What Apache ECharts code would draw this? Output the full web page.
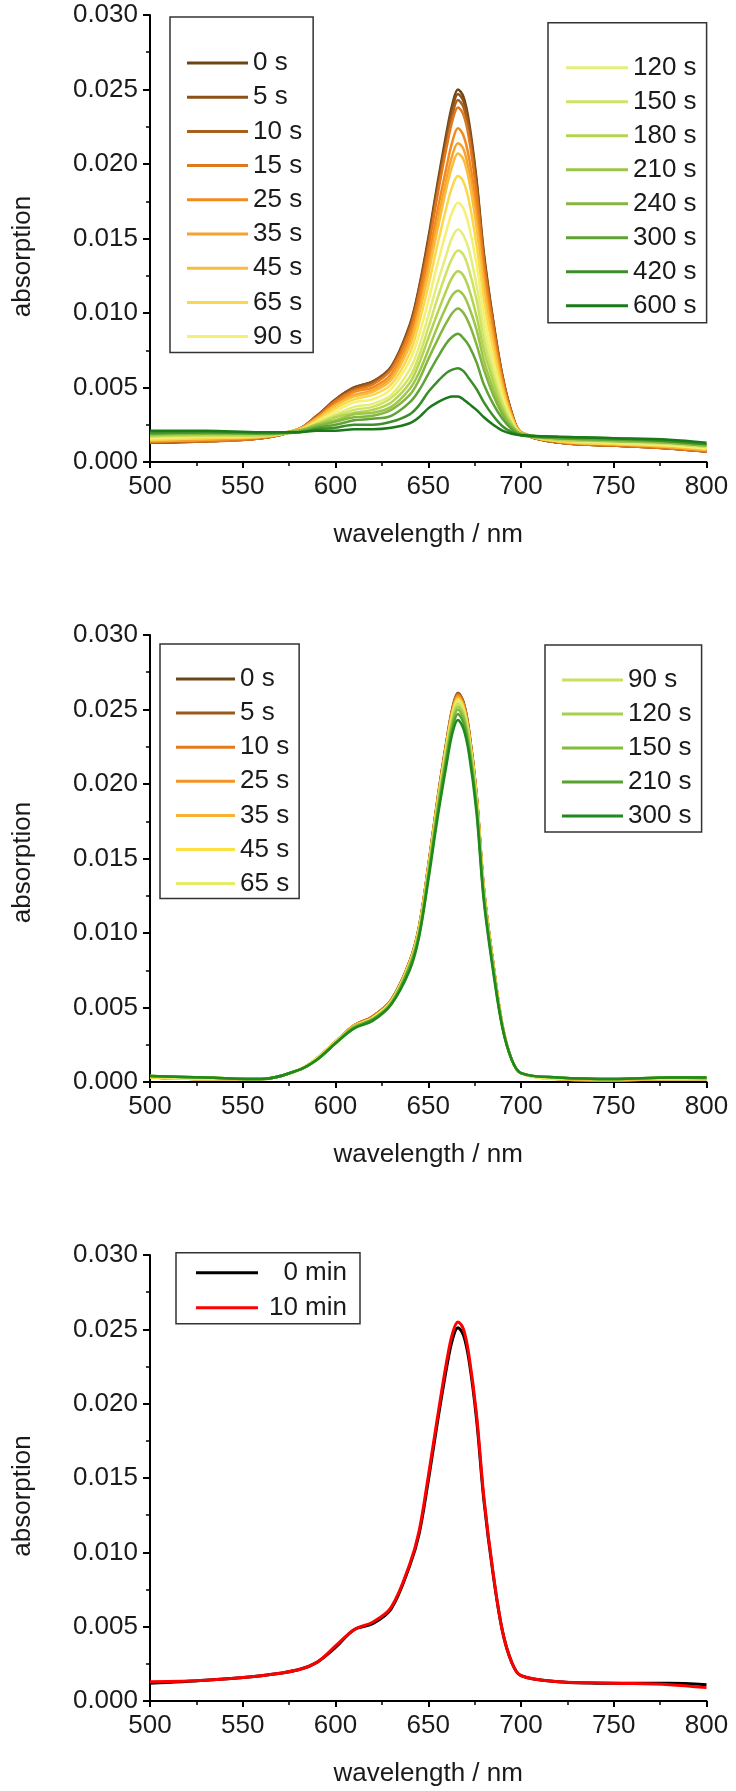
<!DOCTYPE html>
<html><head><meta charset="utf-8">
<script src="https://cdn.jsdelivr.net/npm/echarts@6/dist/echarts.min.js"></script>
<style>html,body{margin:0;padding:0;background:#fff;width:736px;height:1791px;overflow:hidden}
.c{position:absolute;left:0;width:736px}</style></head>
<body>
<div id="c1" class="c" style="top:0;height:600px"></div>
<div id="c2" class="c" style="top:600px;height:620px"></div>
<div id="c3" class="c" style="top:1220px;height:571px"></div>
<script>
// ---------- data ----------
const wavelengths = [500,530,560,580,590,600,610,620,630,640,645,650,655,660,663,666,669,672,676,680,685,690,695,700,720,750,780,800];
const xTicks = [500,550,600,650,700,750,800];
const yTicks = [0,0.005,0.010,0.015,0.020,0.025,0.030];

// Panel 1 (irradiation series)
const p1Names = ['0 s','5 s','10 s','15 s','25 s','35 s','45 s','65 s','90 s','120 s','150 s','180 s','210 s','240 s','300 s','420 s','600 s'];
const p1Colors = ['#6e4416','#8c5119','#a8601c','#e0781e','#f58a1c','#f7a22e','#f9bc3c','#fbd84a','#f6f070','#e4ee7a','#cfe264','#b4d450','#9cc648','#84b640','#5ea334','#3c8e28','#1a7a1a'];
const p1_0s   = [.0013,.0014,.0016,.0022,.0031,.0042,.0050,.0054,.0064,.0092,.0117,.0150,.0187,.0222,.0240,.0250,.0245,.0228,.0190,.0140,.0095,.0058,.0033,.0020,.0013,.0011,.0009,.0007];
const p1_5s   = [.0013,.0014,.0016,.0022,.0031,.0042,.0050,.0054,.0063,.0091,.0116,.0148,.0185,.0219,.0237,.0247,.0242,.0225,.0188,.0138,.0094,.0057,.0033,.0020,.0013,.0011,.0009,.0007];
const p1_10s  = [.0013,.0014,.0016,.0022,.0031,.0041,.0049,.0053,.0063,.0090,.0114,.0146,.0182,.0216,.0233,.0243,.0238,.0222,.0185,.0136,.0093,.0057,.0033,.0020,.0013,.0011,.0009,.0007];
const p1_15s  = [.0014,.0014,.0016,.0022,.0030,.0041,.0048,.0052,.0062,.0088,.0112,.0143,.0179,.0212,.0229,.0238,.0233,.0217,.0181,.0134,.0091,.0056,.0032,.0020,.0013,.0011,.0009,.0007];
const p1_25s  = [.0014,.0015,.0017,.0022,.0030,.0039,.0047,.0050,.0059,.0084,.0106,.0136,.0169,.0199,.0215,.0224,.0219,.0204,.0171,.0126,.0086,.0053,.0031,.0020,.0014,.0012,.0010,.0008];
const p1_35s  = [.0014,.0015,.0017,.0022,.0029,.0038,.0045,.0048,.0057,.0081,.0102,.0130,.0161,.0191,.0206,.0214,.0210,.0195,.0163,.0121,.0083,.0052,.0031,.0020,.0014,.0012,.0010,.0008];
const p1_45s  = [.0015,.0016,.0017,.0022,.0029,.0038,.0044,.0047,.0055,.0078,.0099,.0126,.0156,.0185,.0199,.0207,.0203,.0189,.0158,.0117,.0080,.0050,.0030,.0020,.0014,.0012,.0010,.0008];
const p1_65s  = [.0015,.0016,.0017,.0021,.0028,.0036,.0042,.0045,.0052,.0073,.0093,.0118,.0146,.0172,.0185,.0192,.0188,.0175,.0146,.0109,.0075,.0048,.0029,.0019,.0014,.0012,.0011,.0009];
const p1_90s  = [.0016,.0017,.0018,.0021,.0027,.0034,.0040,.0042,.0049,.0068,.0085,.0108,.0133,.0156,.0168,.0174,.0170,.0158,.0133,.0099,.0069,.0044,.0028,.0019,.0015,.0013,.0011,.0009];
const p1_120s = [.0017,.0017,.0018,.0021,.0026,.0032,.0037,.0039,.0045,.0062,.0077,.0098,.0120,.0140,.0151,.0156,.0152,.0142,.0119,.0090,.0063,.0041,.0027,.0019,.0015,.0013,.0012,.0010];
const p1_150s = [.0017,.0018,.0018,.0021,.0026,.0031,.0035,.0037,.0043,.0057,.0071,.0090,.0110,.0128,.0137,.0142,.0139,.0129,.0109,.0082,.0058,.0039,.0026,.0019,.0015,.0014,.0012,.0010];
const p1_180s = [.0018,.0018,.0018,.0021,.0025,.0030,.0033,.0035,.0040,.0053,.0066,.0083,.0100,.0116,.0124,.0128,.0125,.0116,.0098,.0075,.0054,.0036,.0025,.0019,.0015,.0014,.0013,.0011];
const p1_210s = [.0018,.0019,.0019,.0021,.0025,.0028,.0032,.0033,.0037,.0049,.0060,.0075,.0091,.0105,.0112,.0115,.0112,.0104,.0089,.0068,.0049,.0034,.0024,.0019,.0016,.0014,.0013,.0011];
const p1_240s = [.0019,.0019,.0019,.0021,.0024,.0027,.0030,.0031,.0035,.0045,.0055,.0069,.0082,.0094,.0100,.0103,.0100,.0093,.0079,.0062,.0045,.0032,.0023,.0019,.0016,.0015,.0013,.0011];
const p1_300s = [.0019,.0020,.0019,.0020,.0023,.0025,.0028,.0029,.0031,.0040,.0048,.0059,.0070,.0080,.0084,.0086,.0083,.0078,.0067,.0052,.0039,.0029,.0022,.0018,.0016,.0015,.0014,.0012];
const p1_420s = [.0020,.0020,.0020,.0020,.0022,.0023,.0025,.0025,.0027,.0032,.0038,.0047,.0054,.0060,.0062,.0063,.0061,.0056,.0049,.0040,.0031,.0024,.0020,.0018,.0017,.0016,.0014,.0012];
const p1_600s = [.0021,.0021,.0020,.0020,.0021,.0021,.0022,.0022,.0023,.0026,.0030,.0036,.0040,.0043,.0044,.0044,.0042,.0039,.0035,.0030,.0025,.0021,.0019,.0018,.0017,.0016,.0015,.0013];
const p1Data = [p1_0s,p1_5s,p1_10s,p1_15s,p1_25s,p1_35s,p1_45s,p1_65s,p1_90s,p1_120s,p1_150s,p1_180s,p1_210s,p1_240s,p1_300s,p1_420s,p1_600s];

// Panel 2
const p2Names = ['0 s','5 s','10 s','25 s','35 s','45 s','65 s','90 s','120 s','150 s','210 s','300 s'];
const p2Colors = ['#6e4416','#9a5a1c','#e57a1c','#f59422','#f8b232','#fbe040','#e4ec6a','#c8e060','#a8d04c','#84bc3c','#56a22e','#1e8a1e'];
const p2_0s   = [.0003,.0002,.0002,.0008,.0016,.0027,.0038,.0044,.0055,.0081,.0104,.0145,.0190,.0230,.0251,.0261,.0255,.0236,.0194,.0130,.0080,.0038,.0015,.0006,.0002,.0001,.0002,.0002];
const p2_5s   = [.0003,.0002,.0002,.0008,.0016,.0027,.0038,.0044,.0055,.0081,.0104,.0145,.0190,.0230,.0250,.0261,.0255,.0236,.0194,.0130,.0080,.0038,.0015,.0006,.0002,.0001,.0002,.0002];
const p2_10s  = [.0003,.0002,.0002,.0008,.0016,.0027,.0038,.0044,.0055,.0081,.0104,.0144,.0189,.0229,.0250,.0260,.0254,.0235,.0193,.0129,.0080,.0038,.0015,.0006,.0002,.0001,.0002,.0002];
const p2_25s  = [.0003,.0002,.0002,.0008,.0016,.0027,.0038,.0043,.0054,.0080,.0103,.0144,.0188,.0228,.0249,.0259,.0253,.0234,.0192,.0129,.0079,.0038,.0015,.0006,.0002,.0001,.0002,.0002];
const p2_35s  = [.0003,.0002,.0002,.0008,.0016,.0027,.0038,.0043,.0054,.0080,.0103,.0143,.0188,.0227,.0248,.0258,.0252,.0233,.0192,.0129,.0079,.0038,.0015,.0006,.0002,.0002,.0002,.0002];
const p2_45s  = [.0003,.0002,.0002,.0008,.0016,.0027,.0037,.0043,.0054,.0080,.0102,.0143,.0187,.0227,.0247,.0257,.0251,.0232,.0191,.0128,.0079,.0038,.0015,.0006,.0002,.0002,.0002,.0002];
const p2_65s  = [.0004,.0002,.0002,.0008,.0016,.0026,.0037,.0043,.0054,.0079,.0102,.0142,.0186,.0226,.0246,.0256,.0250,.0232,.0190,.0128,.0078,.0037,.0015,.0006,.0002,.0002,.0002,.0002];
const p2_90s  = [.0004,.0003,.0002,.0008,.0015,.0026,.0037,.0042,.0053,.0079,.0101,.0141,.0185,.0224,.0244,.0254,.0248,.0230,.0189,.0126,.0078,.0037,.0015,.0006,.0003,.0002,.0003,.0002];
const p2_120s = [.0004,.0003,.0002,.0008,.0015,.0026,.0037,.0042,.0053,.0078,.0100,.0140,.0184,.0222,.0242,.0252,.0246,.0228,.0187,.0126,.0077,.0037,.0015,.0006,.0003,.0002,.0003,.0002];
const p2_150s = [.0004,.0003,.0002,.0008,.0015,.0026,.0037,.0042,.0053,.0078,.0100,.0139,.0182,.0220,.0240,.0250,.0244,.0226,.0186,.0125,.0077,.0037,.0015,.0006,.0003,.0002,.0003,.0003];
const p2_210s = [.0004,.0003,.0002,.0008,.0015,.0026,.0036,.0042,.0052,.0077,.0098,.0137,.0180,.0218,.0237,.0247,.0241,.0223,.0184,.0123,.0076,.0037,.0015,.0006,.0003,.0002,.0003,.0003];
const p2_300s = [.0004,.0003,.0002,.0008,.0015,.0026,.0036,.0041,.0052,.0075,.0097,.0135,.0177,.0214,.0234,.0243,.0237,.0220,.0181,.0121,.0074,.0036,.0015,.0006,.0003,.0002,.0003,.0003];
const p2Data = [p2_0s,p2_5s,p2_10s,p2_25s,p2_35s,p2_45s,p2_65s,p2_90s,p2_120s,p2_150s,p2_210s,p2_300s];

// Panel 3
const p3Names = ['0 min','10 min'];
const p3Colors = ['#000000','#ff0000'];
const p3_0min  = [.0012,.0014,.0017,.0021,.0026,.0036,.0048,.0052,.0062,.0091,.0112,.0148,.0188,.0225,.0243,.0251,.0246,.0229,.0190,.0135,.0085,.0047,.0026,.0017,.0013,.0012,.0012,.0011];
const p3_10min = [.0013,.0014,.0017,.0021,.0026,.0037,.0048,.0053,.0063,.0092,.0114,.0151,.0191,.0229,.0247,.0255,.0250,.0232,.0193,.0137,.0086,.0047,.0026,.0017,.0013,.0012,.0011,.0009];
const p3Data = [p3_0min,p3_10min];

// ---------- styling ----------
const F = "'Liberation Sans', Arial, sans-serif";
const TXT = '#1a1a1a';

function axes(gridTop, gridHeight, nameShift) {
  return {
    animation: false,
    grid: {left: 150, right: 29.5, top: gridTop, height: gridHeight, containLabel: false, outerBoundsMode: 'none'},
    xAxis: {
      type: 'value', min: xTicks[0], max: xTicks[xTicks.length-1], interval: xTicks[1]-xTicks[0],
      name: 'wavelength / nm', nameLocation: 'middle', nameGap: 60,
      nameTextStyle: {fontSize: 26, color: TXT, fontFamily: F},
      axisLine: {show: true, onZero: false, lineStyle: {color: '#000', width: 2}},
      axisTick: {show: true, inside: false, length: 6, lineStyle: {color: '#000', width: 2}},
      minorTick: {show: true, splitNumber: 2, length: 4, lineStyle: {color: '#000', width: 1.5}},
      splitLine: {show: false}, minorSplitLine: {show: false},
      axisLabel: {fontSize: 26, color: TXT, fontFamily: F, margin: 12, showMinLabel: true, showMaxLabel: true, hideOverlap: false}
    },
    yAxis: {
      type: 'value', min: yTicks[0], max: yTicks[yTicks.length-1], interval: yTicks[1]-yTicks[0],
      name: 'absorption', nameLocation: 'middle', nameGap: 114,
      nameTextStyle: {fontSize: 26, color: TXT, fontFamily: F, padding: [0, nameShift * 2, 0, 0]},
      axisLine: {show: true, onZero: false, lineStyle: {color: '#000', width: 2}},
      axisTick: {show: true, inside: false, length: 7, lineStyle: {color: '#000', width: 2}},
      minorTick: {show: true, splitNumber: 2, length: 4, lineStyle: {color: '#000', width: 1.5}},
      splitLine: {show: false}, minorSplitLine: {show: false},
      axisLabel: {fontSize: 26, color: TXT, fontFamily: F, margin: 12, showMinLabel: true, showMaxLabel: true, hideOverlap: false,
        formatter: v => v.toFixed(3)}
    }
  };
}

function makeSeries(names, datas, colors, width) {
  return names.map((n, i) => ({
    name: n, type: 'line', symbol: 'none', showSymbol: false, smooth: 0.35,
    data: wavelengths.map((w, j) => [w, datas[i][j]]),
    lineStyle: {color: colors[i], width: width},
    itemStyle: {color: colors[i]},
    emphasis: {disabled: true}
  }));
}

function legend(names, left, top, padding, itemWidth, itemGap, extra) {
  return Object.assign({
    data: names, orient: 'vertical', left: left, top: top, padding: padding,
    icon: 'rect', itemWidth: itemWidth, itemHeight: 3, itemGap: itemGap,
    borderColor: '#333', borderWidth: 1.5, borderRadius: 0, backgroundColor: 'transparent',
    selectedMode: false,
    textStyle: {fontSize: 26, color: TXT, fontFamily: F}
  }, extra || {});
}

// Chart 1
const o1 = axes(15, 447, 18);
o1.series = makeSeries(p1Names, p1Data, p1Colors, 2.5);
o1.legend = [
  legend(p1Names.slice(0, 9), 170, 17, [33, 11, 3, 17], 61, 8.2),
  legend(p1Names.slice(9), 548, 22.7, [32, 10, 4, 18], 62, 8)
];
echarts.init(document.getElementById('c1'), null, {renderer: 'canvas'}).setOption(o1);

// Chart 2
const o2 = axes(35, 447, 4);
o2.series = makeSeries(p2Names, p2Data, p2Colors, 2.5);
o2.legend = [
  legend(p2Names.slice(0, 7), 160, 44, [22, 10, 2, 16], 59, 8.1),
  legend(p2Names.slice(7), 545, 45, [22, 10, 3, 17], 61, 8)
];
echarts.init(document.getElementById('c2'), null, {renderer: 'canvas'}).setOption(o2);

// Chart 3
const o3 = axes(35, 446, 18);
o3.series = makeSeries(p3Names, p3Data, p3Colors, 3);
o3.legend = [
  legend(p3Names, 176, 32.7, [7, 13, 3, 20], 62, 9, {
    formatter: n => '{r|' + n + '}',
    textStyle: {fontSize: 26, color: TXT, fontFamily: F,
      rich: {r: {width: 84, align: 'right', fontSize: 26, color: TXT, fontFamily: F, lineHeight: 26}}}
  })
];
echarts.init(document.getElementById('c3'), null, {renderer: 'canvas'}).setOption(o3);
</script>
</body></html>
